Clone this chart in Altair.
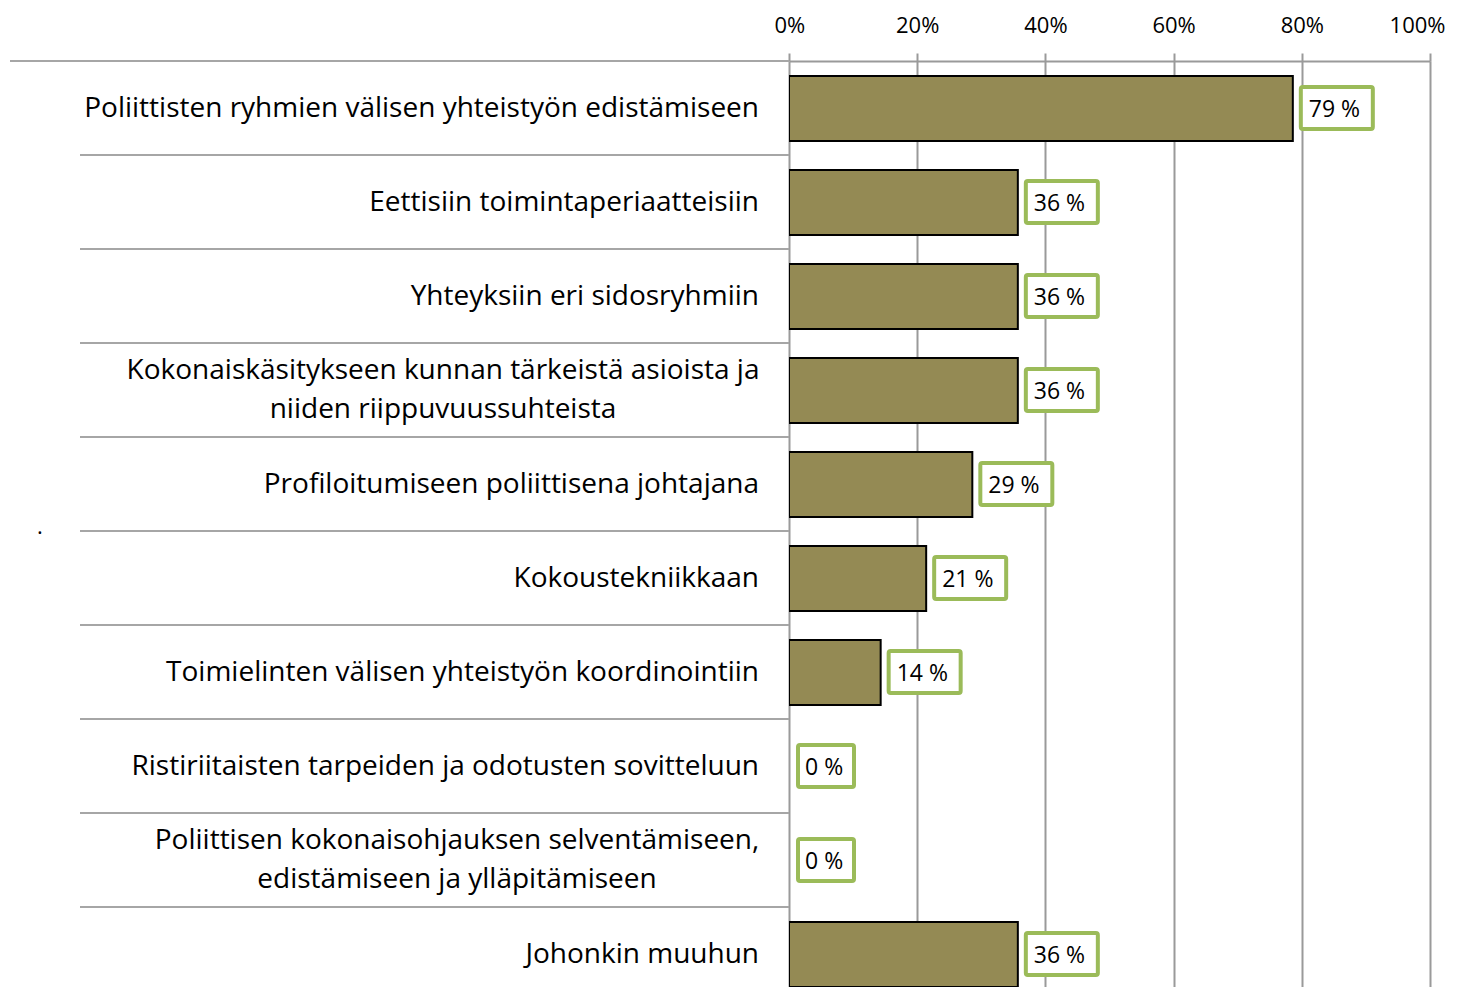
import altair as alt
import pandas as pd

categories = [
    "Poliittisten ryhmien välisen yhteistyön edistämiseen",
    "Eettisiin toimintaperiaatteisiin",
    "Yhteyksiin eri sidosryhmiin",
    "Kokonaiskäsitykseen kunnan tärkeistä asioista ja|niiden riippuvuussuhteista",
    "Profiloitumiseen poliittisena johtajana",
    "Kokoustekniikkaan",
    "Toimielinten välisen yhteistyön koordinointiin",
    "Ristiriitaisten tarpeiden ja odotusten sovitteluun",
    "Poliittisen kokonaisohjauksen selventämiseen,|edistämiseen ja ylläpitämiseen",
    "Johonkin muuhun\u00a0",
]
shares = [78.6, 35.7, 35.7, 35.7, 28.6, 21.4, 14.3, 0.0, 0.0, 35.7]
tick_values = [0, 20, 40, 60, 80, 100]
stray_mark = "."

df = pd.DataFrame({"cat": categories, "share": shares, "idx": list(range(len(categories)))})

FONT = "Open Sans"
LFS = 28
STEP = 94
W = 641
H = 926
GRID = "#9a9a9a"
BAR = "#948A54"
BOX = "#9BBB59"

base = alt.Chart(df)
yscale = alt.Scale(domain=[0, H / STEP], reverse=True, nice=False, zero=False)
xscale = alt.Scale(domain=[0, 100], nice=False)

bars = base.transform_filter("datum.share > 0").mark_rect(
    fill=BAR, stroke="black", strokeWidth=2, yOffset=15, y2Offset=80, clip=True).encode(
    x=alt.X("share:Q", scale=xscale, axis=alt.Axis(
        orient="top", values=tick_values, labelExpr="datum.value + '%'",
        grid=True, gridColor=GRID, gridWidth=2,
        domain=True, domainColor=GRID, domainWidth=2,
        ticks=True, tickColor=GRID, tickWidth=2, tickSize=8,
        labelFont=FONT, labelFontSize=22, labelColor="black", labelPadding=16,
        labelFlush=True, labelFlushOffset=15, title=None)),
    x2=alt.value(0),
    y=alt.Y("idx:Q", scale=yscale, axis=None),
    y2=alt.Y2("idx:Q"),
)

lab = base.transform_calculate(label="format(datum.share, '.0f') + ' %'")

box2 = lab.transform_filter("datum.share >= 9.5").mark_rect(
    fill="white", stroke=BOX, strokeWidth=4, cornerRadius=2,
    xOffset=8, x2Offset=80, yOffset=26, y2Offset=68, clip=True).encode(
    x=alt.X("share:Q", scale=xscale), x2=alt.X2("share:Q"),
    y=alt.Y("idx:Q", scale=yscale, axis=None), y2=alt.Y2("idx:Q"))

box1 = lab.transform_filter("datum.share < 9.5").mark_rect(
    fill="white", stroke=BOX, strokeWidth=4, cornerRadius=2,
    xOffset=9, x2Offset=65, yOffset=26, y2Offset=68, clip=True).encode(
    x=alt.X("share:Q", scale=xscale), x2=alt.X2("share:Q"),
    y=alt.Y("idx:Q", scale=yscale, axis=None), y2=alt.Y2("idx:Q"))

vals = lab.mark_text(align="left", baseline="middle", font=FONT, fontSize=23,
                     color="black", dx=16, dy=49).encode(
    x=alt.X("share:Q", scale=xscale), y=alt.Y("idx:Q", scale=yscale, axis=None), text="label:N")

single = base.transform_filter("indexof(datum.cat, '|') < 0").mark_text(
    align="right", baseline="middle", font=FONT, fontSize=LFS, color="black", dy=48).encode(
    x=alt.value(-30), y=alt.Y("idx:Q", scale=yscale, axis=None), text="cat:N")

multi_a = base.transform_filter("datum.idx == 3").transform_calculate(
    lines="split(datum.cat, '|')").mark_text(
    align="center", baseline="middle", font=FONT, fontSize=LFS, color="black", dy=28,
    lineHeight=39).encode(
    x=alt.value(-346), y=alt.Y("idx:Q", scale=yscale, axis=None), text="lines:N")

multi_b = base.transform_filter("datum.idx == 8").transform_calculate(
    lines="split(datum.cat, '|')").mark_text(
    align="center", baseline="middle", font=FONT, fontSize=LFS, color="black", dy=28,
    lineHeight=39).encode(
    x=alt.value(-332), y=alt.Y("idx:Q", scale=yscale, axis=None), text="lines:N")

seps = base.transform_filter("datum.idx > 0").mark_rule(color="#a6a6a6", strokeWidth=2).encode(
    y=alt.Y("idx:Q", scale=yscale, axis=None), x=alt.value(-709), x2=alt.value(0))

top_line = base.transform_filter("datum.idx == 0").mark_rule(color="#a6a6a6", strokeWidth=2).encode(
    y=alt.Y("idx:Q", scale=yscale, axis=None), x=alt.value(-779), x2=alt.value(0))

dot = base.transform_filter("datum.idx == 5").transform_calculate(
    dot=f"'{stray_mark}'").mark_text(
    align="center", baseline="alphabetic", font=FONT, fontSize=22, color="black", dy=3).encode(
    x=alt.value(-749), y=alt.Y("idx:Q", scale=yscale, axis=None), text="dot:N")

chart = alt.layer(seps, top_line, bars, box2, box1, vals, single, multi_a, multi_b, dot).properties(
    width=W, height=H,
    autosize=alt.AutoSizeParams(type="none"),
    padding={"left": 781, "top": 53, "right": 24, "bottom": 0},
).configure_view(stroke=None)

chart.save("out.html", embed_options={"renderer": "svg", "actions": False})
